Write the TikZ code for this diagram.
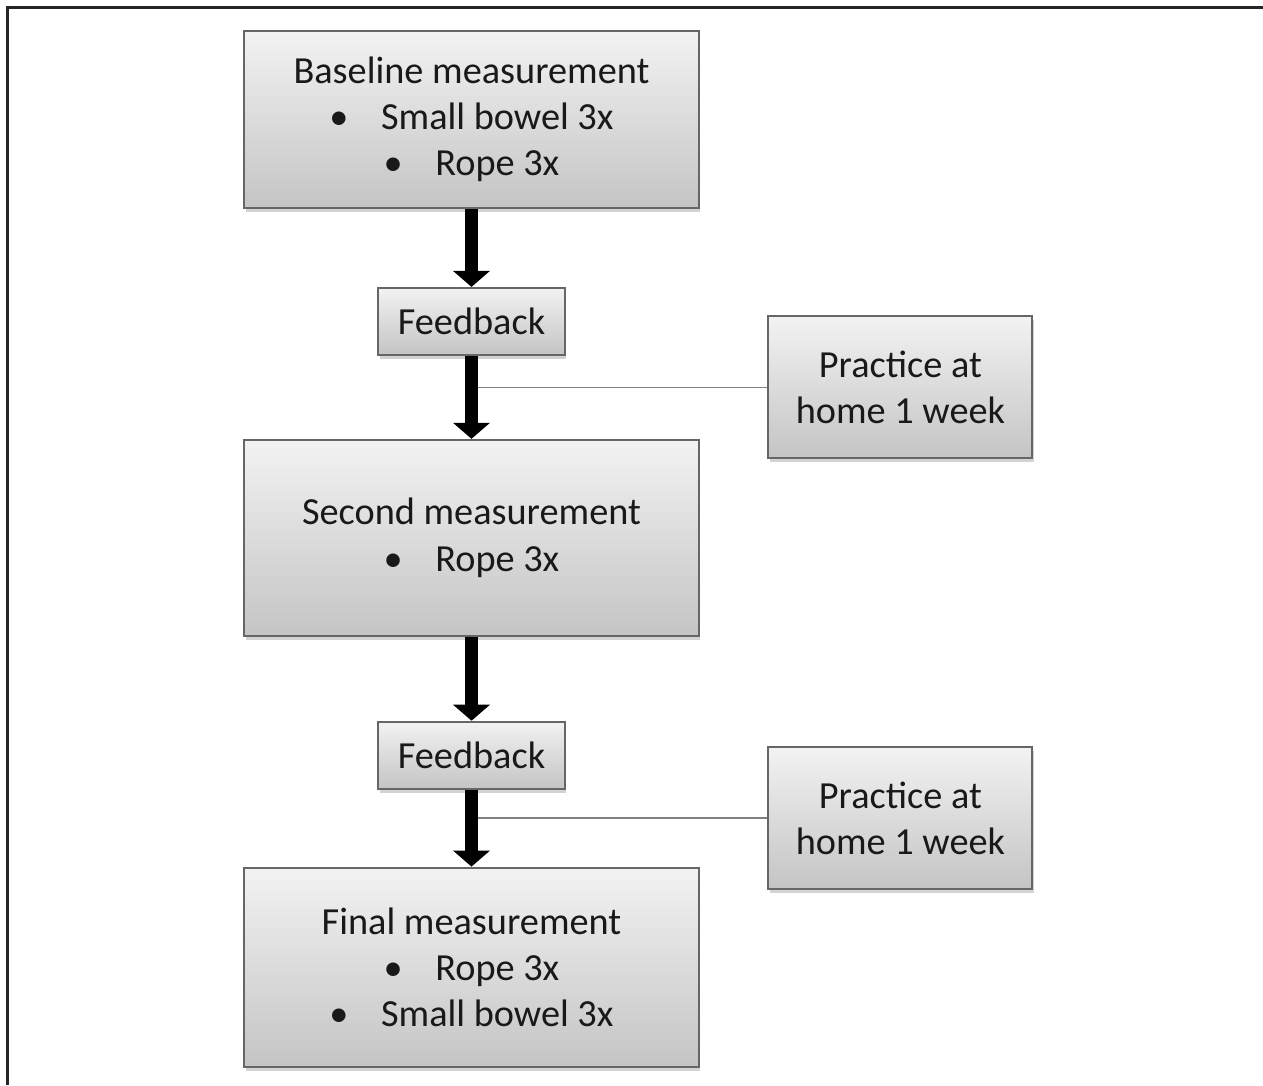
\documentclass[tikz,border=0pt]{standalone}
\usepackage{fontspec}
\setmainfont{Carlito}
\usepackage{tikz}
\usetikzlibrary{shapes,arrows.meta,positioning,calc,shadows}

\begin{document}
\begin{tikzpicture}[x=0.02cm,y=-0.02cm,
    box/.style={draw=black!60,line width=1.1pt,top color=black!5,bottom color=black!23,
      drop shadow={shadow xshift=0.03cm,shadow yshift=-0.08cm,opacity=0.35},
      align=center,text=black!90,font=\fontsize{21.8}{26.2}\selectfont,inner sep=0pt},
    measure/.style={box,minimum width=9.1cm},
    feedback/.style={box,minimum width=3.74cm,minimum height=1.34cm},
    practice/.style={box,minimum width=5.28cm,minimum height=2.84cm},
    flow/.style={line width=0.26cm,-{Triangle[width=0.72cm,length=0.32cm]}},
    link/.style={draw=black!50,line width=0.8pt}]
    \useasboundingbox (0,0) rectangle (1263,1085);
    \draw[line width=1.6pt,black!85] (7.5,1085) -- (7.5,7.5) -- (1263,7.5);
    \node[measure,minimum height=3.54cm] (base) at (471.5,119.5)
      {Baseline measurement\\ \textbullet\hspace{0.85em}Small bowel 3x\\ \textbullet\hspace{0.85em}Rope 3x};
    \node[feedback,below=1.56cm of base] (fb1) {Feedback};
    \node[measure,minimum height=3.92cm,below=1.66cm of fb1] (second)
      {Second measurement\\ \textbullet\hspace{0.85em}Rope 3x};
    \node[feedback,below=1.68cm of second] (fb2) {Feedback};
    \node[measure,minimum height=3.98cm,below=1.54cm of fb2] (final)
      {Final measurement\\ \textbullet\hspace{0.85em}Rope 3x\\ \textbullet\hspace{0.85em}Small bowel 3x};
    \coordinate (j1) at ($(fb1.south)!0.38!(second.north)$);
    \coordinate (j2) at ($(fb2.south)!0.37!(final.north)$);
    \node[practice,right=5.92cm of j1] (home1) {Practice at\\home 1 week};
    \node[practice,right=5.92cm of j2] (home2) {Practice at\\home 1 week};
    \draw[link] (home1) -- (j1);
    \draw[link] (home2) -- (j2);
    \draw[flow] (base) -- (fb1);
    \draw[flow] (fb1) -- (second);
    \draw[flow] (second) -- (fb2);
    \draw[flow] (fb2) -- (final);
  \end{tikzpicture}
\end{document}
